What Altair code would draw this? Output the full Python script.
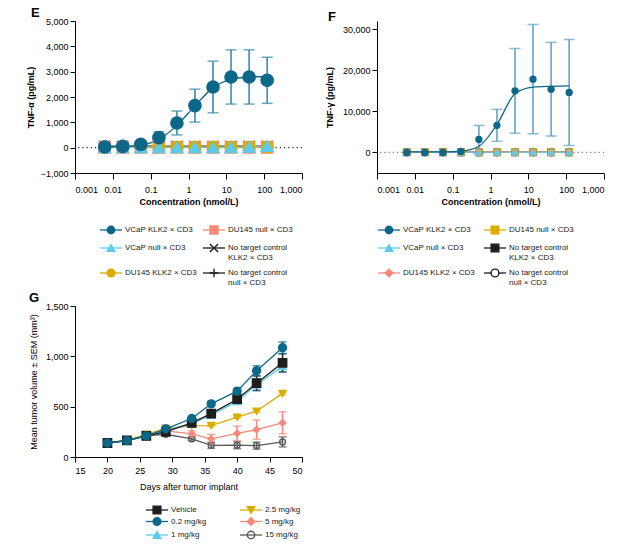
import altair as alt
import pandas as pd

# ---------------- data ----------------
conc = [0.0061, 0.0183, 0.0549, 0.165, 0.494, 1.48, 4.44, 13.3, 40, 120]

e_names = ["VCaP  KLK2 × CD3", "VCaP  null × CD3", "DU145 KLK2 × CD3",
           "DU145 null × CD3", "No target control\nKLK2 × CD3", "No target control\nnull × CD3"]
e_vcap_klk2 = [30, 50, 130, 395, 975, 1660, 2395, 2790, 2790, 2660]
e_vcap_klk2_sd = [0, 0, 0, 230, 470, 650, 1020, 1070, 1070, 910]
e_vcap_klk2_fit = [30, 45, 100, 330, 880, 1650, 2370, 2700, 2790, 2810]
e_vcap_null = [10, 10, 10, 10, 10, 10, 10, 15, 20, 60]
e_du145_klk2 = [30, 30, 30, 30, 30, 30, 30, 30, 30, 30]
e_du145_null = [10, 10, 10, 10, 10, 10, 10, 10, 10, 10]
e_ntc_klk2 = [60, 60, 60, 60, 60, 60, 60, 60, 60, 60]
e_ntc_null = [30, 30, 30, 30, 30, 30, 30, 30, 30, 30]

f_names = ["VCaP  KLK2 × CD3", "VCaP  null × CD3", "DU145 KLK2 × CD3",
           "DU145 null × CD3", "No target control\nKLK2 × CD3", "No target control\nnull × CD3"]
f_vcap_klk2 = [0, 0, 0, 250, 3180, 6600, 15000, 17850, 15400, 14600]
f_vcap_klk2_sd = [0, 0, 0, 0, 3400, 3900, 10300, 13300, 11400, 12900]
f_vcap_klk2_fit = [150, 150, 160, 300, 1500, 6800, 14300, 15900, 16100, 16200]
f_vcap_null = [50, 50, 50, 50, 50, 50, 50, 50, 50, 50]
f_du145_klk2 = [30, 30, 30, 30, 30, 30, 30, 30, 30, 30]
f_du145_null = [40, 40, 40, 40, 40, 40, 40, 40, 40, 40]
f_ntc_klk2 = [20, 20, 20, 20, 20, 20, 20, 20, 20, 20]
f_ntc_null = [20, 20, 20, 20, 20, 20, 20, 20, 20, 20]

days = [20, 23, 26, 29, 33, 36, 40, 43, 47]
g_names = ["Vehicle", "0.2 mg/kg", "1 mg/kg", "2.5 mg/kg", "5 mg/kg", "15 mg/kg"]
g_vehicle = [139, 166, 209, 249, 339, 431, 574, 733, 936]
g_vehicle_sem = [8, 8, 10, 12, 20, 38, 40, 72, 90]
g_02 = [139, 163, 210, 280, 382, 528, 654, 857, 1085]
g_02_sem = [8, 8, 10, 12, 15, 25, 27, 50, 58]
g_1 = [136, 160, 205, 265, 330, 418, 552, 718, 900]
g_1_sem = [8, 8, 10, 12, 15, 25, 30, 60, 60]
g_25 = [139, 163, 226, 285, 310, 312, 395, 455, 632]
g_25_sem = [5, 5, 8, 10, 8, 8, 10, 12, 12]
g_5 = [139, 163, 210, 259, 230, 180, 235, 272, 340]
g_5_sem = [5, 5, 8, 12, 30, 45, 72, 95, 110]
g_15 = [139, 163, 210, 226, 180, 116, 117, 113, 150]
g_15_sem = [5, 5, 8, 10, 15, 30, 35, 35, 50]

# ---------------- styles ----------------
FONT = "Liberation Sans"
BLUE = "#0d6789"
CYAN = "#5ccbe9"
GOLD = "#d8ad00"
SALMON = "#f7897b"
BLACK = "#1e1e1e"
GREY = "#5a5a5a"
X_PATH = "M-1,-1L1,1M-1,1L1,-1"
PLUS_PATH = "M-1,0L1,0M0,-1L0,1"

e_colors = [BLUE, CYAN, GOLD, SALMON, BLACK, BLACK]
e_fills = [BLUE, CYAN, GOLD, SALMON, BLACK, BLACK]
e_shapes = ["circle", "triangle-up", "circle", "square", X_PATH, PLUS_PATH]
e_sizes = [150, 110, 25, 25, 30, 30]
e_leg_sizes = [55, 70, 50, 45, 50, 55]

f_colors = [BLUE, CYAN, SALMON, GOLD, BLACK, BLACK]
f_fills = [BLUE, CYAN, SALMON, GOLD, BLACK, "white"]
f_shapes = ["circle", "triangle-up", "diamond", "square", "square", "circle"]
f_sizes = [35, 40, 30, 50, 30, 30]
f_leg_sizes = [55, 60, 45, 55, 45, 55]

g_colors = [BLACK, BLUE, CYAN, GOLD, SALMON, GREY]
g_fills = [BLACK, BLUE, CYAN, GOLD, SALMON, "transparent"]
g_shapes = ["square", "circle", "triangle-up", "triangle-down", "diamond", "circle"]
g_sizes = [70, 35, 35, 30, 25, 45]
g_leg_sizes = [60, 55, 45, 50, 40, 55]

W, H = 227, 152
GH = 151
LEG_FS = 8


def sc(names, rng):
    return alt.Scale(domain=names, range=rng)


def legend_layer(names, colors, fills, shapes, sizes, xr, yr):
    df = pd.DataFrame({"name": names,
                       "col": [i // 3 for i in range(len(names))],
                       "row": [i % 3 for i in range(len(names))]})
    X = alt.X("col:Q", scale=alt.Scale(domain=[0, 1], range=xr, nice=False, zero=False), axis=None)
    Y = alt.Y("row:Q", scale=alt.Scale(domain=[0, 1, 2], range=yr, nice=False, zero=False), axis=None)
    base = alt.Chart(df)
    rule = base.mark_rule(xOffset=-11, x2Offset=11, strokeWidth=1.3).encode(
        x=X, x2="col:Q", y=Y,
        color=alt.Color("name:N", scale=sc(names, colors), legend=None))
    pnt = base.mark_point(opacity=1, strokeWidth=1.4).encode(
        x=X, y=Y,
        shape=alt.Shape("name:N", scale=sc(names, shapes), legend=None),
        fill=alt.Fill("name:N", scale=sc(names, fills), legend=None),
        stroke=alt.Stroke("name:N", scale=sc(names, colors), legend=None),
        size=alt.Size("name:N", scale=sc(names, sizes), legend=None))
    txt = base.mark_text(align="left", baseline="middle", dx=14, fontSize=LEG_FS, font=FONT,
                         lineBreak="\n", lineHeight=10, color="#222222").encode(
        x=X, y=Y, text="name:N")
    return alt.layer(rule, pnt, txt)


def dose_panel(names, colors, fills, shapes, sizes, leg_sizes, series, sd, fit,
               ydom, yvals, ytitle, title_x, letter, letter_dx, err_color, dot_color, leg_x):
    recs = []
    for i in reversed(range(len(names))):
        for c, v in zip(conc, series[i]):
            recs.append({"name": names[i], "c": c, "v": v})
    pts = pd.DataFrame(recs)
    main = pd.DataFrame({"c": conc, "v": series[0], "sd": sd, "fit": fit})
    main["lo"] = main["v"] - main["sd"]
    main["hi"] = main["v"] + main["sd"]
    err = main[main["sd"] > 0]
    others = pts[pts["name"] != names[0]]

    xs = alt.Scale(type="log", domain=[0.001, 1000], nice=False)
    ys = alt.Scale(domain=ydom, nice=False, zero=False)
    xax = alt.Axis(values=[0.001, 0.01, 0.1, 1, 10, 100, 1000],
                   labelExpr="format(datum.value, ',~g')",
                   title="Concentration (nmol/L)", titleFontWeight="bold",
                   tickSize=6, labelPadding=6, titlePadding=3)
    yax = alt.Axis(values=yvals, format=",.0f", title=ytitle, titleFontWeight="bold",
                   titleX=title_x, labelPadding=2, tickSize=5)

    X = alt.X("c:Q", scale=xs, axis=xax)

    def Y(f):
        return alt.Y(f, scale=ys, axis=yax)

    zero = alt.Chart(pd.DataFrame({"z": [0]})).mark_rule(
        color=dot_color, strokeDash=[1.2, 3], strokeWidth=1.2
    ).encode(y=Y("z:Q"))
    erule = alt.Chart(err).mark_rule(color=err_color, strokeWidth=1.5).encode(
        x=X, y=Y("lo:Q"), y2="hi:Q")
    ecap_hi = alt.Chart(err).mark_tick(color=err_color, orient="horizontal", size=11,
                                       thickness=1.5).encode(x=X, y=Y("hi:Q"))
    ecap_lo = alt.Chart(err).mark_tick(color=err_color, orient="horizontal", size=11,
                                       thickness=1.5).encode(x=X, y=Y("lo:Q"))
    oline = alt.Chart(others).mark_line(strokeWidth=1.2).encode(
        x=X, y=Y("v:Q"), detail="name:N",
        color=alt.Color("name:N", scale=sc(names, colors), legend=None))
    fline = alt.Chart(main).mark_line(color=colors[0], strokeWidth=1.3,
                                      interpolate="monotone").encode(
        x=X, y=Y("fit:Q"))
    pnt = alt.Chart(pts).mark_point(opacity=1, strokeWidth=1.4).encode(
        x=X, y=Y("v:Q"),
        shape=alt.Shape("name:N", scale=sc(names, shapes), legend=None),
        fill=alt.Fill("name:N", scale=sc(names, fills), legend=None),
        stroke=alt.Stroke("name:N", scale=sc(names, colors), legend=None),
        size=alt.Size("name:N", scale=sc(names, sizes), legend=None))
    plot = alt.layer(zero, oline, erule, ecap_hi, ecap_lo, fline, pnt)
    leg = legend_layer(names, colors, fills, shapes, leg_sizes, leg_x, [209, 227, 252])
    return alt.layer(plot, leg).resolve_scale(x="independent", y="independent",
                                               size="independent").properties(
        width=W, height=H,
        title=alt.TitleParams(letter, anchor="start", frame="group", dx=letter_dx,
                              fontSize=13, fontWeight="bold", font=FONT, offset=-3))


E = dose_panel(e_names, e_colors, e_fills, e_shapes, e_sizes, e_leg_sizes,
               [e_vcap_klk2, e_vcap_null, e_du145_klk2, e_du145_null, e_ntc_klk2, e_ntc_null],
               e_vcap_klk2_sd, e_vcap_klk2_fit, [-1000, 5000],
               [-1000, 0, 1000, 2000, 3000, 4000, 5000], "TNF-α (pg/mL)", -40, "E", -44,
               "#2c84a5", "#222222", [36, 139])
F = dose_panel(f_names, f_colors, f_fills, f_shapes, f_sizes, f_leg_sizes,
               [f_vcap_klk2, f_vcap_null, f_du145_klk2, f_du145_null, f_ntc_klk2, f_ntc_null],
               f_vcap_klk2_sd, f_vcap_klk2_fit, [-5000, 32000],
               [0, 10000, 20000, 30000], "TNF-γ (pg/mL)", -43, "F", -49,
               "#5a9fc0", "#777777", [12, 118])

# ---- G panel ----
g_series = [g_vehicle, g_02, g_1, g_25, g_5, g_15]
g_sems = [g_vehicle_sem, g_02_sem, g_1_sem, g_25_sem, g_5_sem, g_15_sem]
grecs = []
for i in [5, 4, 3, 2, 0, 1]:
    for d, v, s in zip(days, g_series[i], g_sems[i]):
        grecs.append({"name": g_names[i], "d": d, "v": v, "lo": v - s, "hi": v + s})
gdf = pd.DataFrame(grecs)
gx = alt.X("d:Q", scale=alt.Scale(domain=[15, 50], nice=False),
           axis=alt.Axis(values=[15, 20, 25, 30, 35, 40, 45, 50], title="Days after tumor implant",
                         titleFontWeight="normal", labelPadding=4, titlePadding=7, tickSize=5))
gys = alt.Scale(domain=[0, 1500], nice=False)
gyax = alt.Axis(values=[0, 500, 1000, 1500], format=",.0f", titleFontWeight="normal",
                title="Mean tumor volume ± SEM (mm³)", titleX=-37, labelPadding=2, tickSize=5)


def GY(f):
    return alt.Y(f, scale=gys, axis=gyax)


gcol = alt.Color("name:N", scale=sc(g_names, g_colors), legend=None)
gline = alt.Chart(gdf).mark_line(strokeWidth=1.3).encode(
    x=gx, y=GY("v:Q"), color=gcol, detail="name:N")
grule = alt.Chart(gdf).mark_rule(strokeWidth=1.5).encode(
    x=gx, y=GY("lo:Q"), y2="hi:Q", color=gcol)
gcap1 = alt.Chart(gdf).mark_tick(orient="horizontal", size=8, thickness=1.5).encode(
    x=gx, y=GY("hi:Q"), color=gcol)
gcap2 = alt.Chart(gdf).mark_tick(orient="horizontal", size=8, thickness=1.5).encode(
    x=gx, y=GY("lo:Q"), color=gcol)
gpnt = alt.Chart(gdf).mark_point(opacity=1, strokeWidth=1.4).encode(
    x=gx, y=GY("v:Q"),
    shape=alt.Shape("name:N", scale=sc(g_names, g_shapes), legend=None),
    fill=alt.Fill("name:N", scale=sc(g_names, g_fills), legend=None),
    stroke=alt.Stroke("name:N", scale=sc(g_names, g_colors), legend=None),
    size=alt.Size("name:N", scale=sc(g_names, g_sizes), legend=None))
gplot = alt.layer(gline, grule, gcap1, gcap2, gpnt)
gleg = legend_layer(g_names, g_colors, g_fills, g_shapes, g_leg_sizes, [82, 176], [204, 215.5, 229])
G = alt.layer(gplot, gleg).resolve_scale(x="independent", y="independent",
                                         size="independent").properties(
    width=W, height=GH,
    title=alt.TitleParams("G", anchor="start", frame="group", dx=-46,
                          fontSize=13, fontWeight="bold", font=FONT, offset=-3))

chart = alt.concat(E, F, G, columns=2, spacing={"row": 133, "column": 75},
                   bounds="flush").resolve_scale(
    color="independent", fill="independent", stroke="independent",
    shape="independent", size="independent"
).properties(
    padding={"left": 26, "top": 7, "right": 0, "bottom": 0}
).configure_view(stroke=None).configure_axis(
    grid=False, domainColor="black", tickColor="black", labelColor="black",
    titleColor="black", labelFontSize=9, titleFontSize=9, labelFont=FONT, titleFont=FONT,
    domainWidth=1, tickWidth=1
)

chart.save("out.html", embed_options={"renderer": "svg", "actions": False})
